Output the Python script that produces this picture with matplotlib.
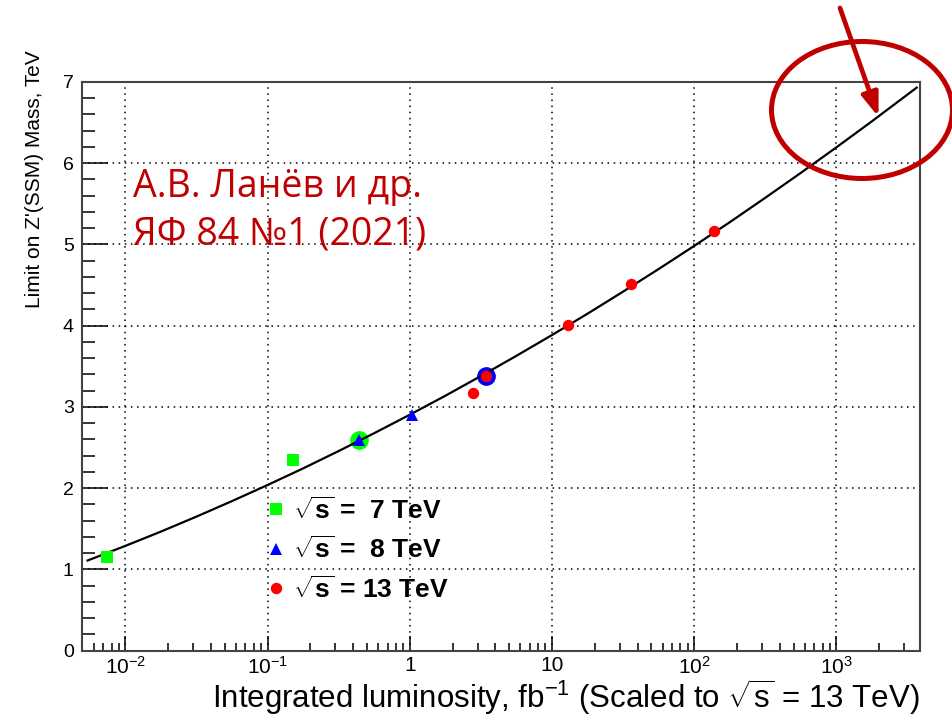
import matplotlib
matplotlib.use("Agg")
import matplotlib.pyplot as plt
from matplotlib.patches import Ellipse, FancyArrowPatch
from matplotlib.lines import Line2D
from matplotlib.ticker import FixedLocator, FixedFormatter, LogLocator, NullFormatter, MultipleLocator

plt.rcParams["font.family"] = ["Liberation Sans", "DejaVu Sans"]
plt.rcParams["mathtext.fontset"] = "custom"
plt.rcParams["mathtext.rm"] = "Liberation Sans"
plt.rcParams["mathtext.it"] = "Liberation Sans"
plt.rcParams["mathtext.bf"] = "Liberation Sans:bold"

# Mass limits by collision energy (luminosity scaled to 13 TeV)
lumi_7tev = [0.0074, 0.151]
mass_7tev = [1.15, 2.35]
lumi_8tev = [0.443, 1.04]
mass_8tev = [2.59, 2.90]
lumi_13tev = [2.79, 3.46, 12.9, 36.1, 137.7]
mass_13tev = [3.17, 3.38, 4.01, 4.51, 5.16]

# Highlighted measurements (ringed)
ring_7tev_lumi = [0.443]
ring_7tev_mass = [2.59]
ring_8tev_lumi = [3.46]
ring_8tev_mass = [3.38]

# Extrapolation curve
curve_lumi = [0.00543, 0.01, 0.0178, 0.0316, 0.0562, 0.1, 0.178, 0.316, 0.562,
              1.0, 1.78, 3.16, 5.62, 10.0, 17.8, 31.6, 56.2, 100.0, 178.0,
              316.0, 562.0, 1000.0, 1778.0, 3673.0]
curve_mass = [1.110, 1.290, 1.466, 1.650, 1.841, 2.039, 2.244, 2.457, 2.677,
              2.904, 3.138, 3.380, 3.629, 3.885, 4.148, 4.419, 4.697, 4.982, 5.274,
              5.574, 5.881, 6.195, 6.516, 6.931]

x_ticks = [0.01, 0.1, 1, 10, 100, 1000]
x_tick_labels = [r"$10^{-2}$", r"$10^{-1}$", "1", "10", r"$10^{2}$", r"$10^{3}$"]
y_ticks = [0, 1, 2, 3, 4, 5, 6, 7]
legend_labels = [r"$\sqrt{\mathbf{s}}$ =  7 TeV",
                 r"$\sqrt{\mathbf{s}}$ =  8 TeV",
                 r"$\sqrt{\mathbf{s}}$ = 13 TeV"]

GREEN = "#00ff00"
BLUE = "#0000ff"
RED = "#ff0000"
DARKRED = "#c00000"

W, H = 953, 716
fig = plt.figure(figsize=(W / 100, H / 100), dpi=100)
ax = fig.add_axes([82 / W, (H - 650.7) / H, (920 - 82) / W, (650.7 - 82) / H])

ax.set_xscale("log")
ax.set_xlim(0.00496, 3875)
ax.set_ylim(0, 7)

# rings behind the curve
ax.plot(ring_7tev_lumi, ring_7tev_mass, "o", color=GREEN, ms=13.5, mew=0, zorder=2)
ax.plot(ring_8tev_lumi, ring_8tev_mass, "o", color=BLUE, ms=13.5, mew=0, zorder=2)

ax.plot(curve_lumi, curve_mass, "-", color="black", lw=1.6, zorder=3)

ax.plot(lumi_7tev, mass_7tev, "s", color=GREEN, ms=8.2, mew=0, zorder=4)
ax.plot(lumi_8tev, mass_8tev, "^", color=BLUE, ms=9, mew=0, zorder=4)
ax.plot(lumi_13tev, mass_13tev, "o", color=RED, ms=8.2, mew=0, zorder=4)

# axes styling
ax.xaxis.set_major_locator(FixedLocator(x_ticks))
ax.xaxis.set_major_formatter(FixedFormatter(x_tick_labels))
ax.xaxis.set_minor_locator(LogLocator(base=10, subs=range(2, 10), numticks=20))
ax.xaxis.set_minor_formatter(NullFormatter())
ax.yaxis.set_major_locator(FixedLocator(y_ticks))
ax.yaxis.set_minor_locator(MultipleLocator(0.2))

ax.tick_params(axis="x", which="major", direction="in", length=11, width=1.1,
               labelsize=15, pad=4, top=False)
ax.tick_params(axis="x", which="minor", direction="in", length=6, width=1.1, top=False)
ax.tick_params(axis="y", which="major", direction="in", length=19, width=1.1,
               labelsize=14, pad=6, right=False)
ax.tick_params(axis="y", which="minor", direction="in", length=9.5, width=1.1, right=False)

for s in ax.spines.values():
    s.set_color("#444444")
    s.set_linewidth(1.5)

ax.grid(True, which="major", color="black", linestyle=(0, (1, 3)), linewidth=1.1)
ax.set_axisbelow(True)

ax.set_xlabel(r"Integrated luminosity, fb$^{-1}$ (Scaled to $\sqrt{s}$ = 13 TeV)",
              fontsize=22.5, loc="right", va="baseline")
ax.xaxis.set_label_coords(1.0, -0.1)
ax.set_ylabel("Limit on Z'(SSM) Mass, TeV", fontsize=15, loc="top")
ax.yaxis.set_label_coords(-0.045, 1.056)

handles = [
    Line2D([], [], marker="s", color=GREEN, ls="none", ms=8.2, mew=0),
    Line2D([], [], marker="^", color=BLUE, ls="none", ms=9, mew=0),
    Line2D([], [], marker="o", color=RED, ls="none", ms=8.2, mew=0),
]
ax.legend(handles, legend_labels, loc="upper left",
          bbox_to_anchor=(265 / W, 1 - 497 / H), bbox_transform=fig.transFigure,
          frameon=False, prop={"weight": "bold", "size": 19},
          handlelength=0.85, handletextpad=0.22, labelspacing=0.48,
          borderpad=0, borderaxespad=0)

# citation
fig.text(133 / W, 1 - 196.7 / H, "А.В. Ланёв и др.", color=DARKRED,
         fontsize=27, family=["Open Sans", "DejaVu Sans"], va="baseline", ha="left")
fig.text(133 / W, 1 - 245 / H, "ЯФ 84 №1 (2021)", color=DARKRED,
         fontsize=27, family=["Open Sans", "DejaVu Sans"], va="baseline", ha="left")

# emphasis on the high-luminosity end
fig.patches.append(Ellipse((862 / W, 1 - 110 / H), 181 / W, 137 / H,
                           transform=fig.transFigure, fill=False,
                           edgecolor=DARKRED, linewidth=3.6))
fig.patches.append(FancyArrowPatch((840 / W, 1 - 8 / H), (878.5 / W, 1 - 117 / H),
                                   transform=fig.transFigure,
                                   arrowstyle="-|>,head_length=1.4,head_width=0.5",
                                   mutation_scale=10, color=DARKRED, lw=3.4,
                                   shrinkA=0, shrinkB=0))

fig.savefig("out.png", dpi=100)
